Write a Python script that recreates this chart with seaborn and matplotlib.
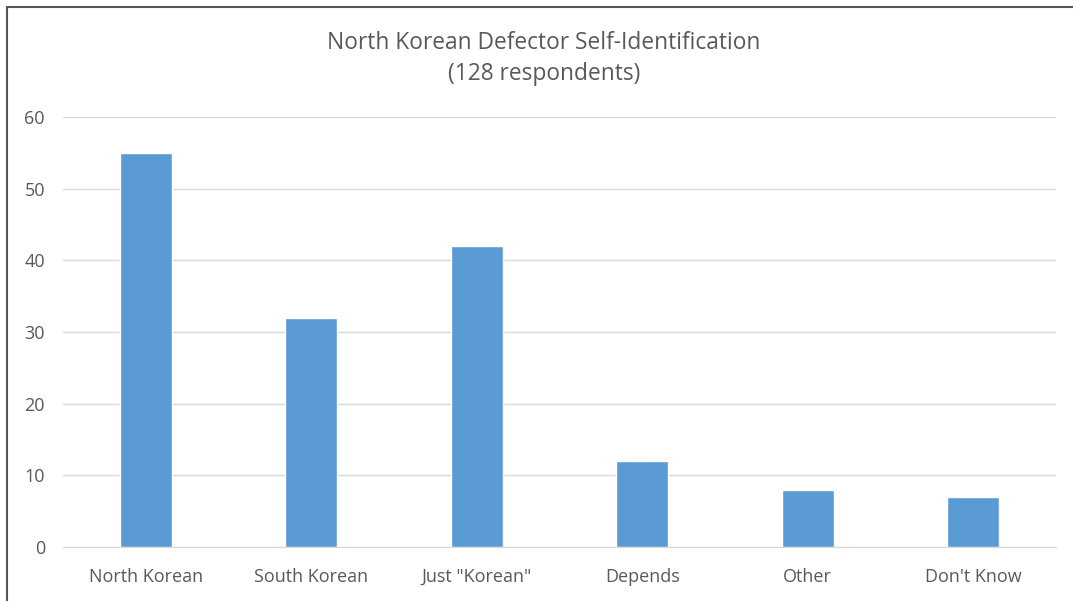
import pandas as pd
import matplotlib
matplotlib.use("Agg")
import matplotlib.pyplot as plt
import seaborn as sns
from matplotlib.patches import Rectangle

# --- data ---
categories = ["North Korean", "South Korean", 'Just "Korean"', "Depends", "Other", "Don't Know"]
counts = [55, 32, 42, 12, 8, 7]
y_ticks = [0, 10, 20, 30, 40, 50, 60]

df = pd.DataFrame({"category": categories, "count": counts})

sns.set_style("white")
plt.rcParams["font.family"] = ["Open Sans", "DejaVu Sans"]

text_grey = "#595959"
bar_blue = "#5B9BD5"

fig = plt.figure(figsize=(10.73, 6.01), dpi=100)
ax = fig.add_axes([0.0587, 0.0899, 0.9254, 0.7154])

sns.barplot(data=df, x="category", y="count", color=bar_blue, width=0.315,
            saturation=1, ax=ax, zorder=3)

ax.set_xlim(-0.5, len(categories) - 0.5)
ax.set_ylim(0, 60)
ax.set_yticks(y_ticks)
ax.yaxis.grid(True, color="#D9D9D9", linewidth=1)
ax.set_axisbelow(True)
for side in ["top", "right", "left"]:
    ax.spines[side].set_visible(False)
ax.spines["bottom"].set_color("#D9D9D9")
ax.tick_params(axis="both", length=0, labelsize=13, colors=text_grey)
ax.tick_params(axis="y", pad=13)
ax.tick_params(axis="x", pad=15)
ax.set_xlabel("")
ax.set_ylabel("")

fig.text(0.507, 0.903, "North Korean Defector Self-Identification\n(128 respondents)",
         ha="center", va="center", fontsize=16.4, color=text_grey, linespacing=1.37)

# frame of the screenshot (left and top edges only)
fig.patches.append(Rectangle((0.0065, -0.05), 1.1, 1.038, transform=fig.transFigure,
                             fill=False, edgecolor="#555555", linewidth=1.5))

plt.savefig("out.png", dpi=100)
plt.close()
